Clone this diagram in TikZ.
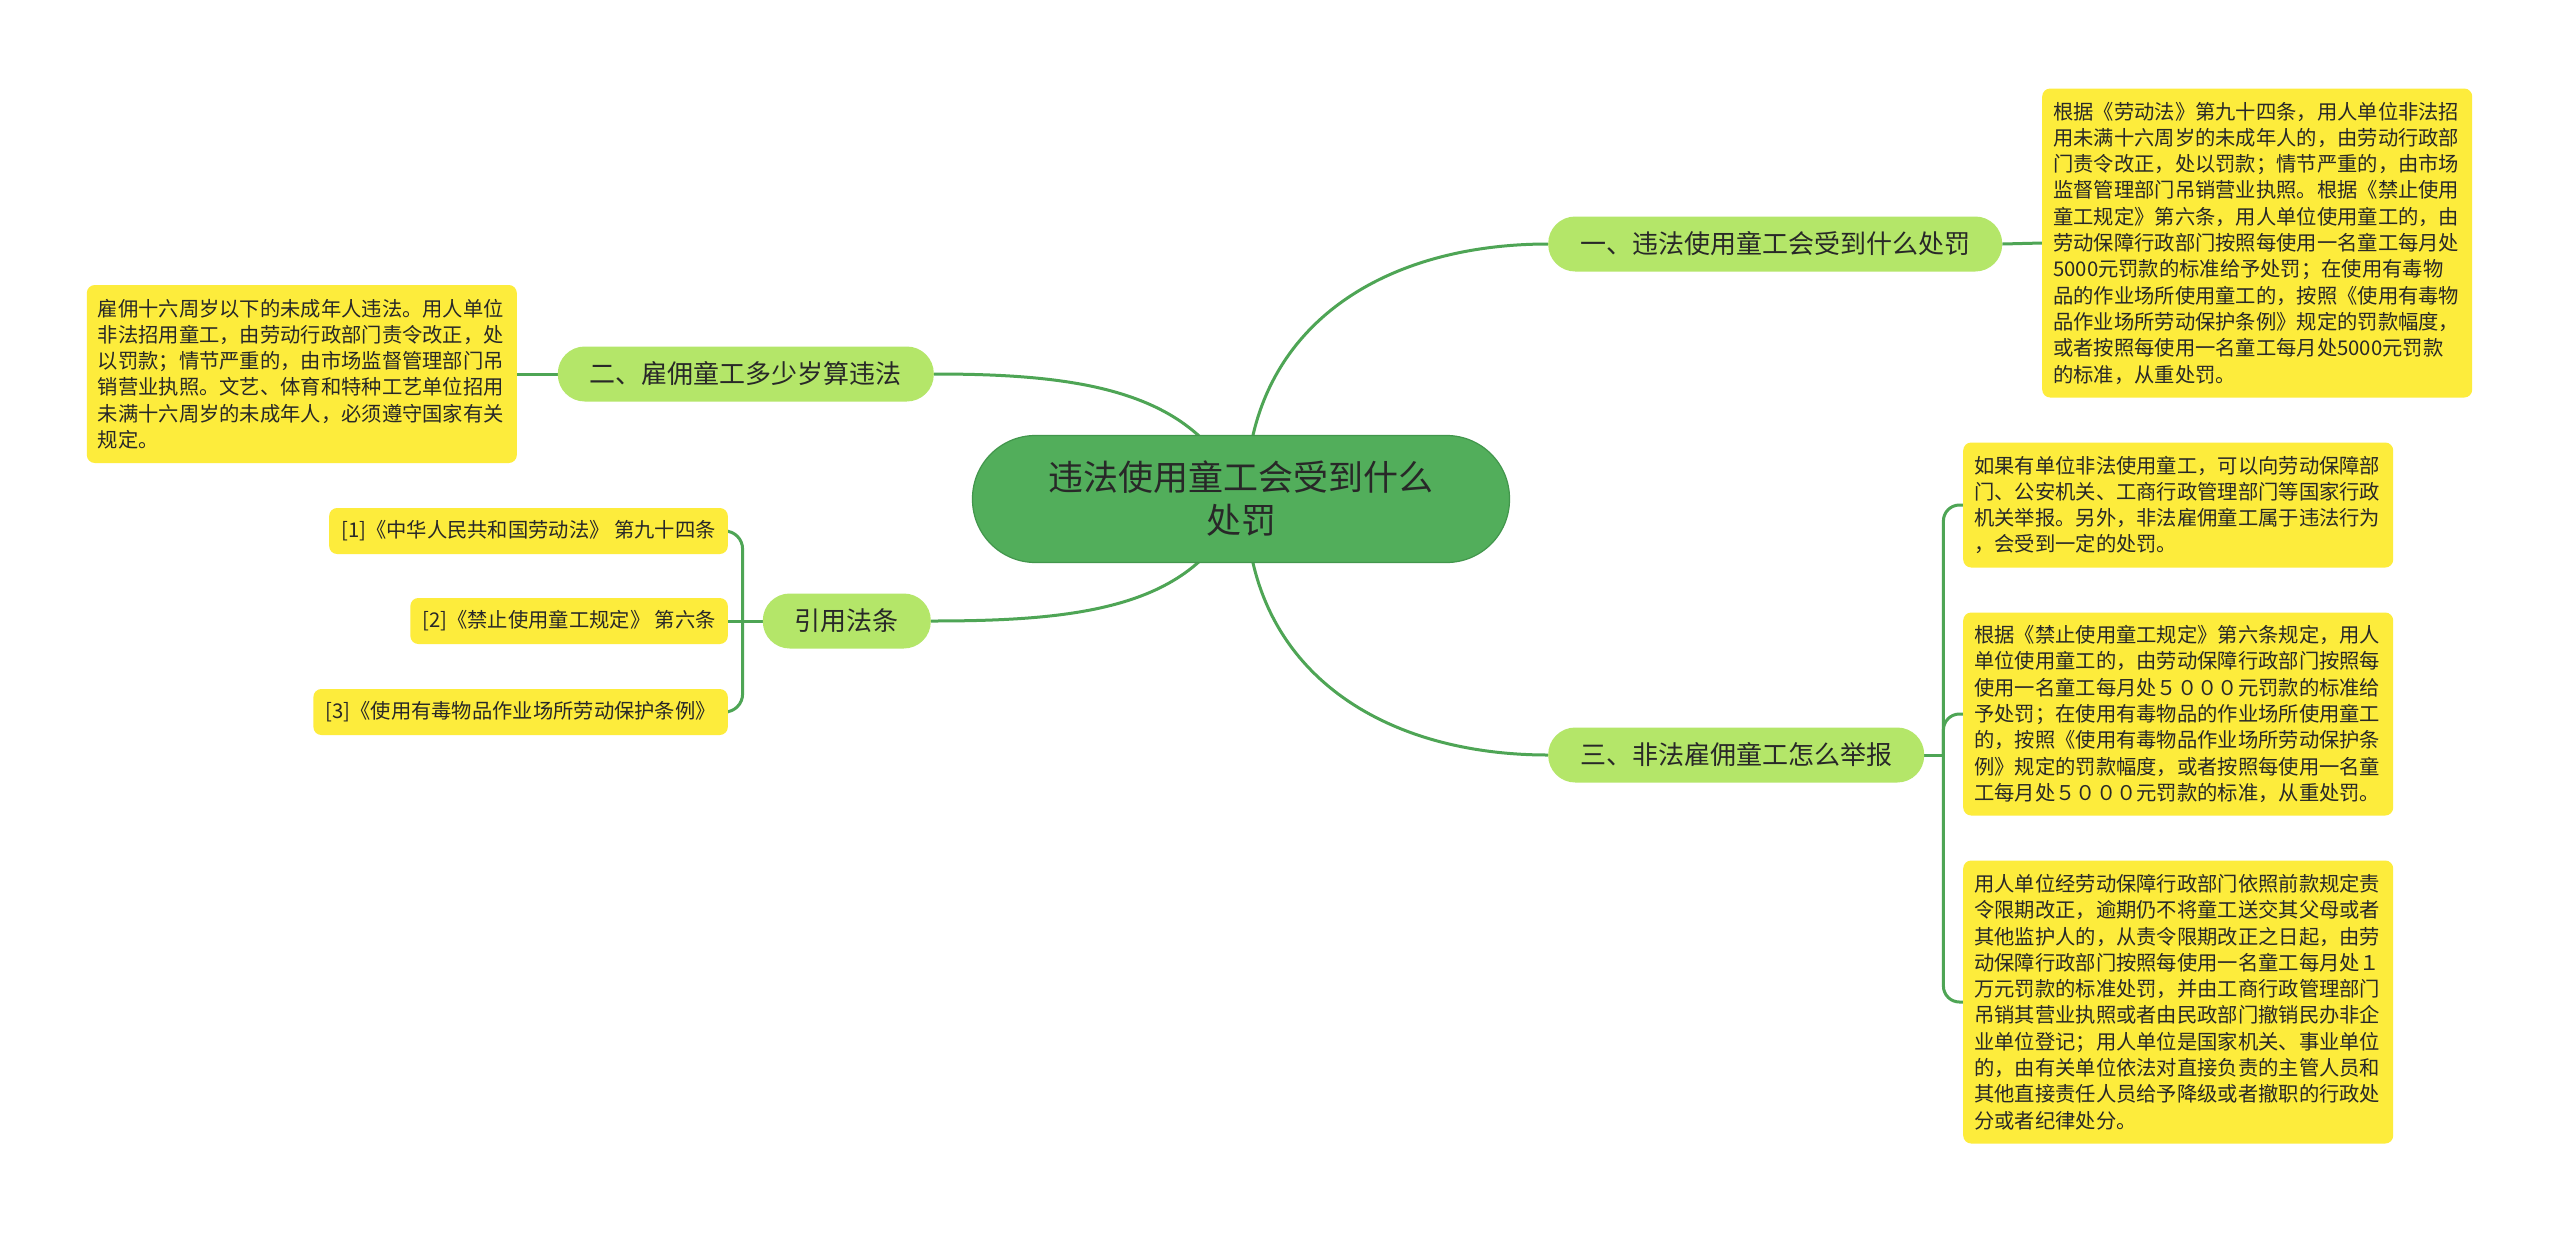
\documentclass[tikz,border=0pt]{standalone}
\usepackage{fontspec}
\setmainfont{Noto Sans CJK SC}
\usetikzlibrary{backgrounds}
\definecolor{rootgreen}{RGB}{82,174,91}
\definecolor{rootline}{RGB}{66,150,76}
\definecolor{branchgreen}{RGB}{180,230,105}
\definecolor{leafyellow}{RGB}{253,236,60}
\definecolor{linkgreen}{RGB}{78,165,85}
\definecolor{inkgray}{RGB}{40,40,40}

\begin{document}
\begin{tikzpicture}[
		x=1pt, y=-1pt,
		text=inkgray,
		root/.style={rectangle, fill=rootgreen, draw=rootline, line width=1.2pt, rounded corners=63pt, minimum width=537pt, minimum height=127pt, align=center, font=\fontsize{35}{43}\selectfont},
		branch/.style={rectangle, fill=branchgreen, rounded corners=27pt, minimum height=55pt, inner xsep=32pt, font=\fontsize{26}{30}\selectfont},
		leaf/.style={rectangle, fill=leafyellow, rounded corners=8pt, text width=408pt, inner xsep=11pt, align=left, font=\fontsize{20.3}{26.3}\selectfont},
		cite/.style={rectangle, fill=leafyellow, rounded corners=8pt, minimum height=46pt, inner xsep=12pt, font=\fontsize{20.3}{24}\selectfont},
		link/.style={draw=linkgreen, line width=3pt}
	]
		\useasboundingbox (0,0) rectangle (2560,1232);
		\node[root] (root) at (1241,499) {违法使用童工会受到什么\\处罚};
		\node[branch, anchor=west] (b1) at (1548,244) {一、违法使用童工会受到什么处罚};
		\node[branch, anchor=east] (b2) at (934,374) {二、雇佣童工多少岁算违法};
		\node[branch, anchor=east] (b3) at (931,621) {引用法条};
		\node[branch, anchor=west] (b4) at (1548,755) {三、非法雇佣童工怎么举报};
		\node[leaf, anchor=west, minimum height=309pt] (r1) at (2042,243) {根据《劳动法》第九十四条，用人单位非法招\\用未满十六周岁的未成年人的，由劳动行政部\\门责令改正，处以罚款；情节严重的，由市场\\监督管理部门吊销营业执照。根据《禁止使用\\童工规定》第六条，用人单位使用童工的，由\\劳动保障行政部门按照每使用一名童工每月处\\5000元罚款的标准给予处罚；在使用有毒物\\品的作业场所使用童工的，按照《使用有毒物\\品作业场所劳动保护条例》规定的罚款幅度，\\或者按照每使用一名童工每月处5000元罚款\\的标准，从重处罚。};
		\node[leaf, anchor=west, minimum height=125pt] (r2) at (1963,505) {如果有单位非法使用童工，可以向劳动保障部\\门、公安机关、工商行政管理部门等国家行政\\机关举报。另外，非法雇佣童工属于违法行为\\，会受到一定的处罚。};
		\node[leaf, anchor=west, minimum height=203pt] (r3) at (1963,714) {根据《禁止使用童工规定》第六条规定，用人\\单位使用童工的，由劳动保障行政部门按照每\\使用一名童工每月处５０００元罚款的标准给\\予处罚；在使用有毒物品的作业场所使用童工\\的，按照《使用有毒物品作业场所劳动保护条\\例》规定的罚款幅度，或者按照每使用一名童\\工每月处５０００元罚款的标准，从重处罚。};
		\node[leaf, anchor=west, minimum height=283pt] (r4) at (1963,1002) {用人单位经劳动保障行政部门依照前款规定责\\令限期改正，逾期仍不将童工送交其父母或者\\其他监护人的，从责令限期改正之日起，由劳\\动保障行政部门按照每使用一名童工每月处１\\万元罚款的标准处罚，并由工商行政管理部门\\吊销其营业执照或者由民政部门撤销民办非企\\业单位登记；用人单位是国家机关、事业单位\\的，由有关单位依法对直接负责的主管人员和\\其他直接责任人员给予降级或者撤职的行政处\\分或者纪律处分。};
		\node[leaf, anchor=east, minimum height=178pt] (l1) at (517,374) {雇佣十六周岁以下的未成年人违法。用人单位\\非法招用童工，由劳动行政部门责令改正，处\\以罚款；情节严重的，由市场监督管理部门吊\\销营业执照。文艺、体育和特种工艺单位招用\\未满十六周岁的未成年人，必须遵守国家有关\\规定。};
		\node[cite, anchor=east] (c1) at (728,531) {[1]《中华人民共和国劳动法》 第九十四条};
		\node[cite, anchor=east] (c2) at (728,621) {[2]《禁止使用童工规定》 第六条};
		\node[cite, anchor=east] (c3) at (728,712) {[3]《使用有毒物品作业场所劳动保护条例》};
		\coordinate (j3) at ([xshift=-20pt]b3.west);
		\coordinate (j4) at ([xshift=19pt]b4.east);
		\begin{scope}[on background layer]
			\fill[white] (0,0) rectangle (2560,1232);
			\draw[link] ([xshift=5pt]root.center) .. controls +(0,-170) and +(-168,0) .. (b1.west);
			\draw[link] ([xshift=5pt]root.center) .. controls +(0,170) and +(-168,0) .. (b4.west);
			\draw[link] (root.center) .. controls +(-41,-109) and +(146,0) .. (b2.east);
			\draw[link] (root.center) .. controls +(-41,109) and +(150,0) .. (b3.east);
			\draw[link] (b1.east) -- (r1.west);
			\draw[link] (b2.west) -- (l1.east);
			\draw[link] (b3.west) -- (c2.east);
			\draw[link, rounded corners=18pt] (c1.east) -| (j3) |- (c3.east);
			\draw[link] (b4.east) -- (j4);
			\draw[link, rounded corners=16pt] (r2.west) -| (j4) |- (r4.west);
			\draw[link, rounded corners=16pt] (j4) |- (r3.west);
		\end{scope}
	\end{tikzpicture}
\end{document}
